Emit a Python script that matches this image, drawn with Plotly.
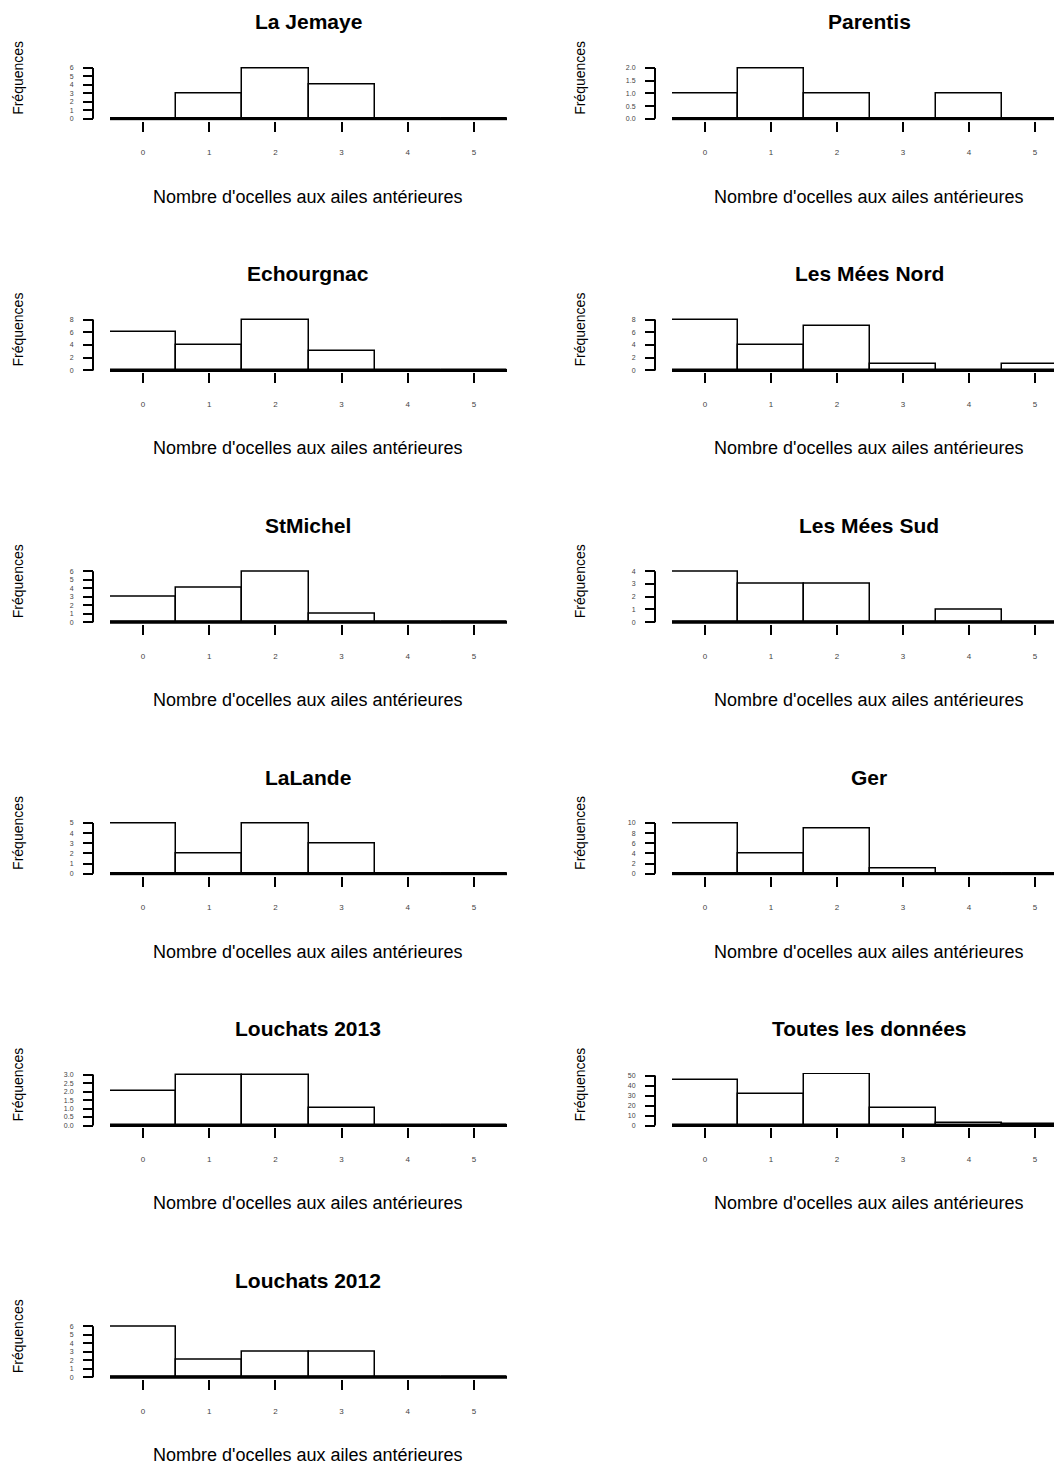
import plotly.graph_objects as go

# page body has an 8px default margin: compensate so the figure fills the window
OFF = 8
W, H = 1062 - OFF, 1468 - OFF

def px(x):
    return (x - OFF) / W

def py(y):
    return 1 - (y - OFF) / H

categories = [0, 1, 2, 3, 4, 5]

# Left column sites
la_jemaye = [0, 3, 6, 4, 0, 0]
echourgnac = [6, 4, 8, 3, 0, 0]
stmichel = [3, 4, 6, 1, 0, 0]
lalande = [5, 2, 5, 3, 0, 0]
louchats_2013 = [2, 3, 3, 1, 0, 0]
louchats_2012 = [6, 2, 3, 3, 0, 0]
# Right column sites
parentis = [1, 2, 1, 0, 1, 0]
mees_nord = [8, 4, 7, 1, 0, 1]
mees_sud = [4, 3, 3, 0, 1, 0]
ger = [10, 4, 9, 1, 0, 0]
toutes = [45, 31, 51, 17, 2, 1]

left_titles = ["La Jemaye", "Echourgnac", "StMichel", "LaLande", "Louchats 2013", "Louchats 2012"]
left_values = [la_jemaye, echourgnac, stmichel, lalande, louchats_2013, louchats_2012]
left_ymax = [6, 8, 6, 5, 3.0, 6]
left_dtick = [1, 2, 1, 1, 0.5, 1]
left_fmt = ["d", "d", "d", "d", ".1f", "d"]

right_titles = ["Parentis", "Les Mées Nord", "Les Mées Sud", "Ger", "Toutes les données"]
right_values = [parentis, mees_nord, mees_sud, ger, toutes]
right_ymax = [2.0, 8, 4, 10, 50]
right_dtick = [0.5, 2, 1, 2, 10]
right_fmt = [".1f", "d", "d", "d", "d"]

xlabel = "Nombre d'ocelles aux ailes antérieures"
ylabel = "Fréquences"

FONT = "Liberation Sans, Arial, sans-serif"

fig = go.Figure()
annotations = []
shapes = []

panels = []
for i in range(6):
    panels.append(("L", i, left_titles[i], left_values[i], left_ymax[i], left_dtick[i], left_fmt[i]))
for i in range(5):
    panels.append(("R", i, right_titles[i], right_values[i], right_ymax[i], right_dtick[i], right_fmt[i]))

for k, (col, row, title, vals, ymax, dtick, fmt) in enumerate(panels, start=1):
    zero = 117 + 252.2 * row
    top = zero - 51
    if col == "L":
        x0, x1, ypos, xr = 110, 507, 93, [-0.5, 5.5]
        cx, ylx = 308, 18
    else:
        x0, x1, ypos, xr = 672, 1062, 655, [-0.5, 5.409]
        cx, ylx = 869, 580
    xa = "x" if k == 1 else f"x{k}"
    ya = "y" if k == 1 else f"y{k}"
    fig.add_trace(go.Bar(
        x=categories, y=vals, width=1,
        marker=dict(color="white", line=dict(color="black", width=1.5)),
        xaxis=xa, yaxis=ya, showlegend=False, hoverinfo="x+y",
    ))
    unit = ymax / 51.0  # data units per pixel
    ytop = max(ymax, max(vals))
    xkey = "xaxis" if k == 1 else f"xaxis{k}"
    ykey = "yaxis" if k == 1 else f"yaxis{k}"
    fig.layout[xkey] = dict(
        domain=[px(x0), px(x1)], anchor=ya, range=xr,
        showgrid=False, zeroline=False, showline=False,
        ticks="outside", ticklen=10, tickwidth=1.5, tickcolor="black",
        tickvals=categories, tickfont=dict(size=8, color="#444", family=FONT),
        ticklabelstandoff=14, fixedrange=True,
    )
    fig.layout[ykey] = dict(
        domain=[py(zero + 2), py(top - 1.5)], anchor="free", position=px(ypos),
        range=[-2 * unit, ytop + 1.5 * unit], showgrid=False, zeroline=False,
        showline=False, ticks="outside", ticklen=10, tickwidth=1.5, tickcolor="black",
        tick0=0, dtick=dtick, tickformat=fmt, ticklabelstandoff=8,
        tickfont=dict(size=7, color="#444", family=FONT), fixedrange=True,
    )
    # y axis line from 0 to max tick (R style)
    shapes.append(dict(type="line", xref="paper", yref=ya, x0=px(ypos), x1=px(ypos),
                       y0=0, y1=ymax, line=dict(color="black", width=2)))
    # thick baseline under the histogram
    shapes.append(dict(type="line", xref=xa, yref=ya, x0=-0.5, x1=5.5,
                       y0=0, y1=0, line=dict(color="black", width=3)))
    annotations.append(dict(text=f"<b>{title}</b>", x=px(cx), y=py(zero - 97),
                            xref="paper", yref="paper", showarrow=False,
                            xanchor="center", yanchor="middle",
                            font=dict(size=21, family=FONT, color="black")))
    annotations.append(dict(text=xlabel, x=px(cx), y=py(zero + 78),
                            xref="paper", yref="paper", showarrow=False,
                            xanchor="center", yanchor="middle",
                            font=dict(size=18, family=FONT, color="black")))
    annotations.append(dict(text=ylabel, x=px(ylx), y=py(zero - 41),
                            xref="paper", yref="paper", showarrow=False, textangle=-90,
                            xanchor="center", yanchor="middle",
                            font=dict(size=14, family=FONT, color="black")))

fig.update_layout(
    width=W, height=H, margin=dict(l=0, r=0, t=0, b=0),
    paper_bgcolor="white", plot_bgcolor="white", bargap=0,
    annotations=annotations, shapes=shapes,
)

fig.write_html("out.html")
